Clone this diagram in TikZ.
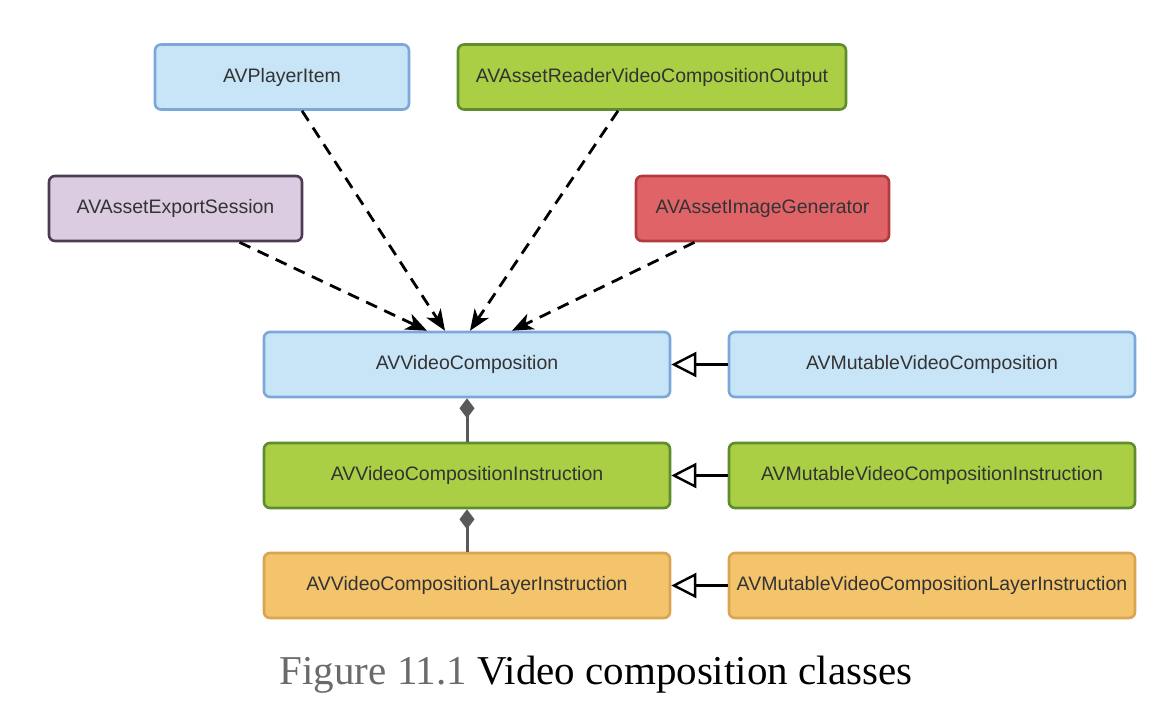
\documentclass[tikz,border=0pt]{standalone}
\usepackage{fontspec}
\setsansfont{Liberation Sans}
\newfontfamily\capfont{Liberation Serif}
\usetikzlibrary{arrows.meta,calc}
\definecolor{bluefill}{HTML}{C8E5F8}
\definecolor{blueline}{HTML}{7BA7D9}
\definecolor{greenfill}{HTML}{AACF45}
\definecolor{greenline}{HTML}{5E8C2E}
\definecolor{purplefill}{HTML}{DCCCE1}
\definecolor{purpleline}{HTML}{4B3C52}
\definecolor{redfill}{HTML}{E06467}
\definecolor{redline}{HTML}{B23A3E}
\definecolor{orangefill}{HTML}{F3C46B}
\definecolor{orangeline}{HTML}{D9A552}
\definecolor{txt}{HTML}{333333}
\definecolor{capgray}{HTML}{6A6A6A}
\begin{document}
\begin{tikzpicture}[x=1pt,y=-1pt,
  cls/.style={draw, line width=2.6pt, rounded corners=6pt, minimum height=65pt,
    inner sep=0pt, font=\sffamily\fontsize{19.5}{22}\selectfont, text=txt},
  dep/.style={line width=2.8pt, dash pattern=on 12pt off 8pt, -{Stealth[length=21pt,width=17pt,inset=6pt]}},
  inh/.style={line width=2.8pt, -{Triangle[open,length=25pt,width=25pt,line width=2.4pt]}},
  comp/.style={line width=3pt, draw=black!65, {Diamond[length=20pt,width=15pt,fill=black!65]}-}
]
\useasboundingbox (0,0) rectangle (1170,724);
\node[cls, fill=bluefill, draw=blueline, minimum width=254pt] (pi) at (282,77) {AVPlayerItem};
\node[cls, fill=greenfill, draw=greenline, minimum width=388pt] (rd) at (652,77) {AVAssetReaderVideoCompositionOutput};
\node[cls, fill=purplefill, draw=purpleline, minimum width=253pt] (ex) at (175.5,208.5) {AVAssetExportSession};
\node[cls, fill=redfill, draw=redline, minimum width=253pt] (ig) at (762.5,208.5) {AVAssetImageGenerator};
\node[cls, fill=bluefill, draw=blueline, minimum width=406pt] (vc) at (467,364.5) {AVVideoComposition};
\node[cls, fill=bluefill, draw=blueline, minimum width=406pt] (mvc) at (932,364.5) {AVMutableVideoComposition};
\node[cls, fill=greenfill, draw=greenline, minimum width=406pt] (vci) at (467,475.5) {AVVideoCompositionInstruction};
\node[cls, fill=greenfill, draw=greenline, minimum width=406pt] (mvci) at (932,475.5) {AVMutableVideoCompositionInstruction};
\node[cls, fill=orangefill, draw=orangeline, minimum width=406pt] (vcl) at (467,585.5) {AVVideoCompositionLayerInstruction};
\node[cls, fill=orangefill, draw=orangeline, minimum width=406pt] (mvcl) at (932,585.5) {AVMutableVideoCompositionLayerInstruction};
\draw[dep] ([xshift=20pt]pi.south) -- ([xshift=-22pt]vc.north);
\draw[dep] ([xshift=-34pt]rd.south) -- ([xshift=3pt]vc.north);
\draw[dep] ([xshift=64pt]ex.south) -- ([xshift=-40pt]vc.north);
\draw[dep] ([xshift=-68pt]ig.south) -- ([xshift=45pt]vc.north);
\draw[inh] (mvc.west) -- (vc.east);
\draw[inh] (mvci.west) -- (vci.east);
\draw[inh] (mvcl.west) -- (vcl.east);
\draw[comp] (vc.south) -- (vci.north);
\draw[comp] (vci.south) -- (vcl.north);
\node[font=\capfont\fontsize{41}{48}\selectfont] (cap) at (596,675) {\textcolor{capgray}{Figure 11.1} Video composition classes};
\end{tikzpicture}
\end{document}
